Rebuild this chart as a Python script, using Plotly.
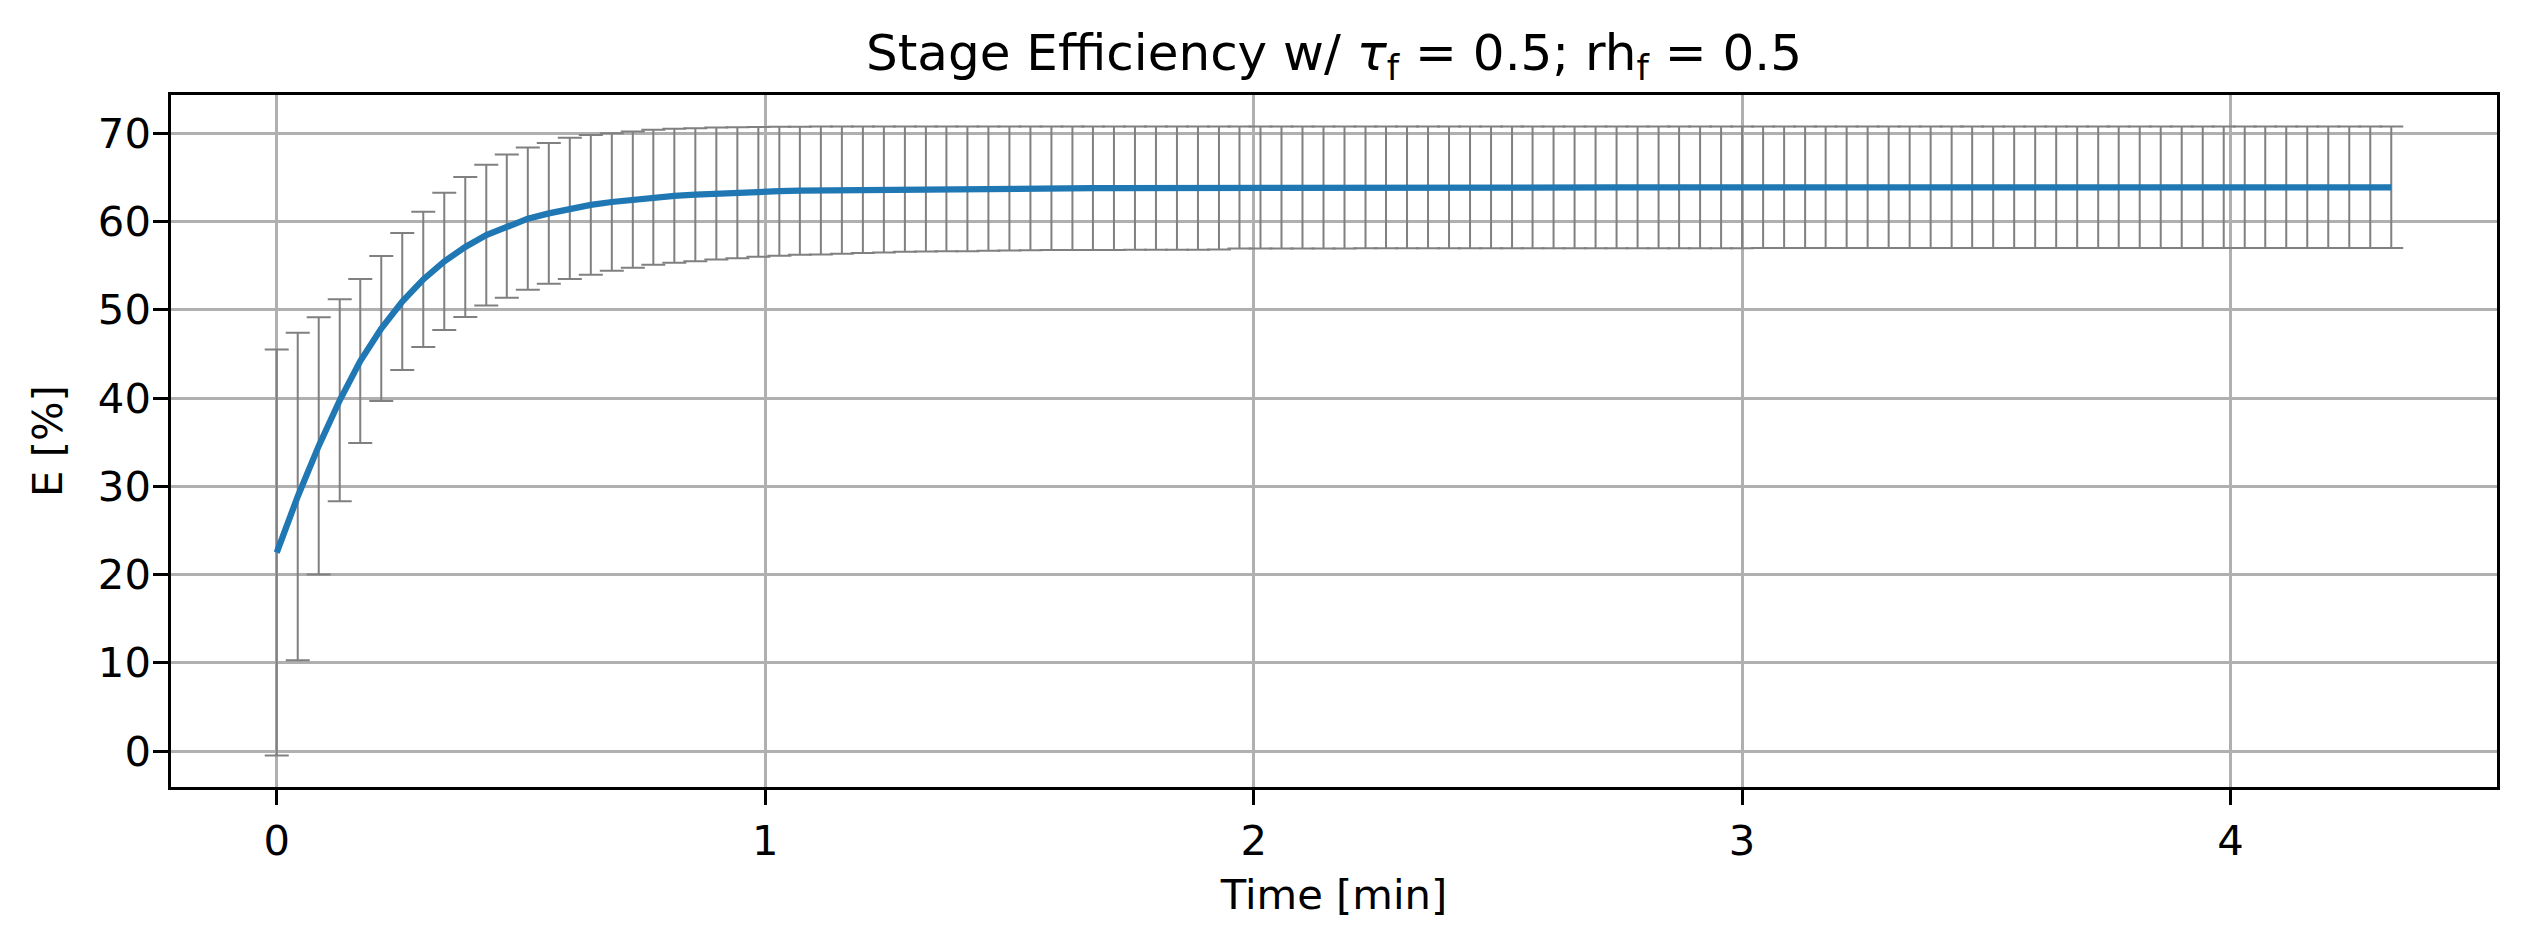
import plotly.graph_objects as go

# Time [min]
time_min = [
    0.000, 0.043, 0.086, 0.129, 0.171, 0.214, 0.257, 0.300, 0.343, 0.386,
    0.429, 0.471, 0.514, 0.557, 0.600, 0.643, 0.686, 0.729, 0.771, 0.814,
    0.857, 0.900, 0.943, 0.986, 1.029, 1.071, 1.114, 1.157, 1.200, 1.243,
    1.286, 1.329, 1.371, 1.414, 1.457, 1.500, 1.543, 1.586, 1.629, 1.671,
    1.714, 1.757, 1.800, 1.843, 1.886, 1.929, 1.971, 2.014, 2.057, 2.100,
    2.143, 2.186, 2.229, 2.271, 2.314, 2.357, 2.400, 2.443, 2.486, 2.529,
    2.571, 2.614, 2.657, 2.700, 2.743, 2.786, 2.829, 2.871, 2.914, 2.957,
    3.000, 3.043, 3.086, 3.129, 3.171, 3.214, 3.257, 3.300, 3.343, 3.386,
    3.429, 3.471, 3.514, 3.557, 3.600, 3.643, 3.686, 3.729, 3.771, 3.814,
    3.857, 3.900, 3.943, 3.986, 4.029, 4.071, 4.114, 4.157, 4.200, 4.243,
    4.286, 4.329,
]

# Stage efficiency E [%] (mean)
efficiency = [
    22.50, 28.85, 34.58, 39.75, 44.19, 47.87, 50.93, 53.44, 55.48, 57.12,
    58.46, 59.47, 60.32, 60.92, 61.49, 61.88, 62.21, 62.48, 62.75, 62.91,
    63.04, 63.17, 63.27, 63.36, 63.43, 63.49, 63.52, 63.55, 63.59, 63.63,
    63.67, 63.68, 63.69, 63.70, 63.72, 63.74, 63.75, 63.76, 63.76, 63.77,
    63.77, 63.78, 63.78, 63.78, 63.79, 63.79, 63.85, 63.85, 63.85, 63.85,
    63.85, 63.85, 63.86, 63.86, 63.86, 63.86, 63.86, 63.86, 63.86, 63.86,
    63.86, 63.86, 63.86, 63.86, 63.86, 63.86, 63.87, 63.87, 63.87, 63.87,
    63.87, 63.88, 63.88, 63.88, 63.88, 63.88, 63.88, 63.88, 63.88, 63.88,
    63.88, 63.88, 63.88, 63.88, 63.88, 63.88, 63.88, 63.88, 63.88, 63.88,
    63.88, 63.88, 63.88, 63.88, 63.88, 63.88, 63.88, 63.88, 63.88, 63.88,
    63.88, 63.88,
]

# Error (± half-range)
efficiency_err = [
    23.00, 18.55, 14.58, 11.45, 9.29, 8.21, 7.76, 7.66, 7.78, 7.93,
    7.98, 8.12, 8.06, 7.98, 7.99, 7.92, 7.80, 7.73, 7.66, 7.59,
    7.53, 7.47, 7.42, 7.36, 7.32, 7.26, 7.25, 7.21, 7.17, 7.14,
    7.10, 7.08, 7.07, 7.06, 7.04, 7.02, 7.01, 7.00, 7.00, 7.00,
    6.99, 6.99, 6.98, 6.98, 6.98, 6.97, 6.91, 6.91, 6.91, 6.91,
    6.91, 6.91, 6.90, 6.90, 6.90, 6.90, 6.90, 6.90, 6.90, 6.90,
    6.90, 6.90, 6.90, 6.90, 6.90, 6.90, 6.89, 6.89, 6.89, 6.89,
    6.89, 6.88, 6.88, 6.88, 6.88, 6.88, 6.88, 6.88, 6.88, 6.88,
    6.88, 6.88, 6.88, 6.88, 6.88, 6.88, 6.88, 6.88, 6.88, 6.88,
    6.88, 6.88, 6.88, 6.88, 6.88, 6.88, 6.88, 6.88, 6.88, 6.88,
    6.88, 6.88,
]

x_ticks = [0, 1, 2, 3, 4]
y_ticks = [0, 10, 20, 30, 40, 50, 60, 70]

FONT = "DejaVu Sans"
W, H = 2525, 947
L, R, T, B = 171, 2497, 95, 787

xmin, xmax = min(time_min), max(time_min)
lo = min(e - d for e, d in zip(efficiency, efficiency_err))
hi = max(e + d for e, d in zip(efficiency, efficiency_err))
xpad = (xmax - xmin) * 0.05
ypad = (hi - lo) * 0.05

fig = go.Figure()
fig.add_trace(go.Scatter(
    x=time_min, y=efficiency, mode="markers",
    marker=dict(size=1, color="rgba(0,0,0,0)"),
    error_y=dict(type="data", array=efficiency_err, visible=True,
                 color="#808080", thickness=2, width=12),
    showlegend=False, hoverinfo="skip",
))
fig.add_trace(go.Scatter(
    x=time_min, y=efficiency, mode="lines",
    line=dict(color="#1f77b4", width=6.25),
    showlegend=False,
))

axis_common = dict(
    showgrid=True, gridcolor="#b0b0b0", gridwidth=3.3,
    zeroline=False,
    showline=True, mirror=True, linecolor="black", linewidth=3.3,
    ticks="outside", ticklen=14.6, tickwidth=3.3, tickcolor="black",
    tickfont=dict(family=FONT, size=41.7, color="black"),
)

fig.update_layout(
    width=W, height=H,
    margin=dict(l=L, r=W - R, t=T, b=H - B, pad=0),
    paper_bgcolor="white", plot_bgcolor="white",
    title=dict(
        text="Stage Efficiency w/ <i>τ</i><sub>f</sub> = 0.5; rh<sub>f</sub> = 0.5",
        font=dict(family=FONT, size=50, color="black"),
        x=(L + R) / 2 / W, xanchor="center", xref="container",
        y=1 - 52 / H, yanchor="middle", yref="container",
    ),
    xaxis=dict(
        range=[xmin - xpad, xmax + xpad],
        tickvals=x_ticks, ticktext=[str(v) for v in x_ticks],
        title=dict(text="Time [min]", font=dict(family=FONT, size=41.7, color="black"), standoff=17),
        automargin=False,
        **axis_common,
    ),
    yaxis=dict(
        range=[lo - ypad, hi + ypad],
        tickvals=y_ticks, ticktext=[str(v) for v in y_ticks],
        ticklabelstandoff=-6,
        title=dict(text="E [%]", font=dict(family=FONT, size=41.7, color="black"), standoff=23),
        automargin=False,
        **axis_common,
    ),
)

fig.write_html("out.html")
